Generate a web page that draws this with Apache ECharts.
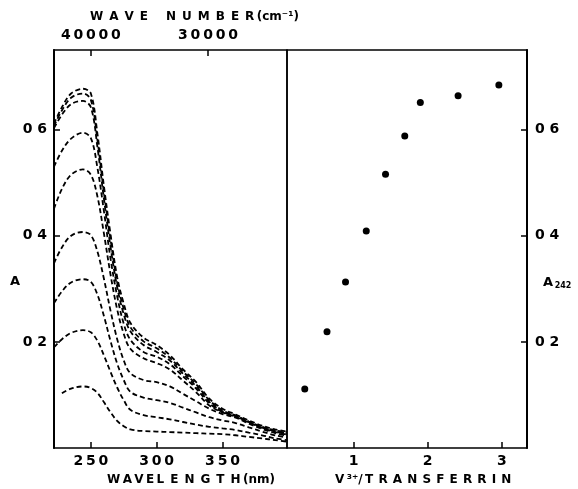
<!DOCTYPE html>
<html>
<head>
<meta charset="utf-8">
<script src="https://cdn.jsdelivr.net/npm/echarts@6/dist/echarts.min.js"></script>
<style>
  html, body { margin: 0; padding: 0; background: #fff; }
  #chart { width: 578px; height: 489px; }
</style>
</head>
<body>
<div id="chart"></div>
<script>
// wavelength grid (nm) shared by all spectra
const wavelength = [222, 228, 235, 244, 250, 255, 260, 265, 270, 275, 280, 290, 300, 310, 320, 330, 340, 350, 360, 370, 380, 390, 399];

// absorbance spectra, lowest to highest titration step
const spec1 = [null, 0.103, 0.112, 0.116, 0.113, 0.104, 0.086, 0.067, 0.051, 0.041, 0.035, 0.032, 0.031, 0.030, 0.029, 0.028, 0.027, 0.026, 0.024, 0.021, 0.018, 0.015, 0.012];
const spec2 = [0.190, 0.205, 0.217, 0.222, 0.218, 0.202, 0.174, 0.143, 0.114, 0.090, 0.072, 0.062, 0.058, 0.054, 0.049, 0.044, 0.040, 0.037, 0.034, 0.029, 0.024, 0.018, 0.015];
const spec3 = [0.273, 0.295, 0.312, 0.318, 0.313, 0.289, 0.248, 0.201, 0.159, 0.128, 0.106, 0.095, 0.090, 0.085, 0.076, 0.067, 0.058, 0.052, 0.047, 0.039, 0.031, 0.024, 0.020];
const spec4 = [0.348, 0.378, 0.400, 0.407, 0.401, 0.370, 0.318, 0.258, 0.205, 0.165, 0.141, 0.128, 0.124, 0.116, 0.102, 0.088, 0.074, 0.064, 0.057, 0.046, 0.036, 0.028, 0.023];
const spec5 = [0.451, 0.488, 0.515, 0.525, 0.515, 0.474, 0.403, 0.326, 0.261, 0.215, 0.187, 0.169, 0.160, 0.148, 0.127, 0.105, 0.080, 0.067, 0.059, 0.048, 0.038, 0.030, 0.025];
const spec6 = [0.530, 0.560, 0.583, 0.594, 0.584, 0.528, 0.445, 0.356, 0.286, 0.234, 0.204, 0.181, 0.172, 0.158, 0.135, 0.112, 0.084, 0.068, 0.060, 0.049, 0.039, 0.031, 0.026];
const spec7 = [0.603, 0.628, 0.648, 0.654, 0.642, 0.567, 0.468, 0.378, 0.303, 0.252, 0.220, 0.194, 0.181, 0.165, 0.140, 0.116, 0.087, 0.069, 0.060, 0.049, 0.039, 0.032, 0.028];
const spec8 = [0.607, 0.636, 0.660, 0.668, 0.656, 0.580, 0.480, 0.392, 0.312, 0.262, 0.228, 0.201, 0.188, 0.170, 0.144, 0.120, 0.090, 0.071, 0.061, 0.050, 0.040, 0.033, 0.030];
const spec9 = [0.611, 0.642, 0.668, 0.677, 0.668, 0.592, 0.492, 0.402, 0.322, 0.272, 0.236, 0.208, 0.194, 0.175, 0.148, 0.124, 0.093, 0.074, 0.063, 0.052, 0.042, 0.035, 0.031];
const spectra = [spec1, spec2, spec3, spec4, spec5, spec6, spec7, spec8, spec9];

// titration points: V3+/transferrin vs A242
const ratio = [0.34, 0.64, 0.89, 1.17, 1.43, 1.69, 1.90, 2.41, 2.96];
const a242 = [0.111, 0.219, 0.313, 0.409, 0.516, 0.588, 0.651, 0.664, 0.684];

// ticks
const wlTicks = [250, 300, 350];
const waveNumTicksNm = [250, 339];
const waveNumLabels = ['40000', '30000'];
const ratioTicks = [1, 2, 3];
const absTicks = [0.2, 0.4, 0.6];
const absLabels = ['0 2', '0 4', '0 6'];

const FONT = 'DejaVu Sans';
const chart = echarts.init(document.getElementById('chart'));

// spread digits a little, like the typewriter lettering of the original
const spaced = s => String(s).split('').join('\u2009');

const tickStyle = { inside: true, length: 6, lineStyle: { color: '#000', width: 1.5 } };
const labelStyle = { color: '#000', fontFamily: FONT, fontWeight: 'bold', fontSize: 14 };
const titleFont = 'bold 12px "DejaVu Sans"';

const option = {
  animation: false,
  backgroundColor: '#fff',
  textStyle: { fontFamily: FONT },
  grid: [
    { left: 54, top: 50, width: 233, height: 398, show: true, borderColor: '#000', borderWidth: 1.5, outerBoundsMode: 'none' },
    { left: 287, top: 50, width: 240, height: 398, show: true, borderColor: '#000', borderWidth: 1.5, outerBoundsMode: 'none' }
  ],
  xAxis: [
    {
      type: 'value', gridIndex: 0, min: 222, max: 399,
      axisLine: { show: false }, splitLine: { show: false },
      axisTick: Object.assign({ customValues: wlTicks }, tickStyle),
      axisLabel: Object.assign({ customValues: wlTicks, margin: 6, formatter: v => spaced(v) }, labelStyle)
    },
    {
      type: 'value', gridIndex: 1, min: 0.1, max: 3.34,
      axisLine: { show: false }, splitLine: { show: false },
      axisTick: Object.assign({ customValues: ratioTicks }, tickStyle),
      axisLabel: Object.assign({ customValues: ratioTicks, margin: 6 }, labelStyle)
    },
    {
      type: 'value', gridIndex: 0, position: 'top', min: 222, max: 399,
      axisLine: { show: false }, splitLine: { show: false },
      axisTick: Object.assign({ customValues: waveNumTicksNm }, tickStyle),
      axisLabel: Object.assign({
        customValues: waveNumTicksNm, margin: 8,
        formatter: v => spaced(waveNumLabels[waveNumTicksNm.indexOf(v)])
      }, labelStyle)
    }
  ],
  yAxis: [
    {
      type: 'value', gridIndex: 0, min: 0, max: 0.75,
      axisLine: { show: true, lineStyle: { color: '#000', width: 2 } }, splitLine: { show: false },
      axisTick: Object.assign({ customValues: absTicks }, tickStyle),
      axisLabel: Object.assign({
        customValues: absTicks, margin: 7,
        formatter: v => absLabels[absTicks.indexOf(v)]
      }, labelStyle)
    },
    {
      type: 'value', gridIndex: 1, position: 'right', min: 0, max: 0.75,
      axisLine: { show: true, lineStyle: { color: '#000', width: 2 } }, splitLine: { show: false },
      axisTick: Object.assign({ customValues: absTicks }, tickStyle),
      axisLabel: Object.assign({
        customValues: absTicks, margin: 8,
        formatter: v => absLabels[absTicks.indexOf(v)]
      }, labelStyle)
    }
  ],
  series: spectra.map(s => ({
    type: 'line',
    xAxisIndex: 0, yAxisIndex: 0,
    data: wavelength.map((w, i) => [w, s[i]]),
    smooth: 0.35,
    showSymbol: false,
    connectNulls: false,
    lineStyle: { color: '#000', width: 1.8, type: [5, 3] }
  })).concat([{
    type: 'scatter',
    xAxisIndex: 1, yAxisIndex: 1,
    data: ratio.map((r, i) => [r, a242[i]]),
    symbol: 'circle',
    symbolSize: 7,
    itemStyle: { color: '#000', opacity: 1 }
  }]),
  graphic: [
    { type: 'text', left: 90, top: 11, style: { text: 'W\u2002A\u2002V\u2002E\u2003\u2002N\u2002U\u2002M\u2002B\u2002E\u2002R\u2009(cm\u207B\u00B9)', font: titleFont, fill: '#000' } },
    { type: 'text', left: 107, top: 474, style: { text: 'W\u2009A\u2009V\u2009E\u2009L\u2002E\u2002N\u2002G\u2002T\u2002H\u2009(nm)', font: titleFont, fill: '#000' } },
    { type: 'text', left: 335, top: 474, style: { text: 'V\u2009\u00B3\u207A/\u2009T\u2004\u200AR\u2004\u200AA\u2004\u200AN\u2004\u200AS\u2004\u200AF\u2004\u200AE\u2004\u200AR\u2004\u200AR\u2004\u200AI\u2004\u200AN', font: titleFont, fill: '#000' } },
    { type: 'text', left: 10, top: 275, style: { text: 'A', font: 'bold 13px "DejaVu Sans"', fill: '#000' } },
    { type: 'text', left: 543, top: 276, style: { text: '{a|A}{s|\u2009242}', rich: { a: { font: 'bold 13px "DejaVu Sans"', fill: '#000' }, s: { font: 'bold 8px "DejaVu Sans"', fill: '#000', padding: [7, 0, 0, 0] } } } }
  ]
};

chart.setOption(option);
</script>
</body>
</html>
